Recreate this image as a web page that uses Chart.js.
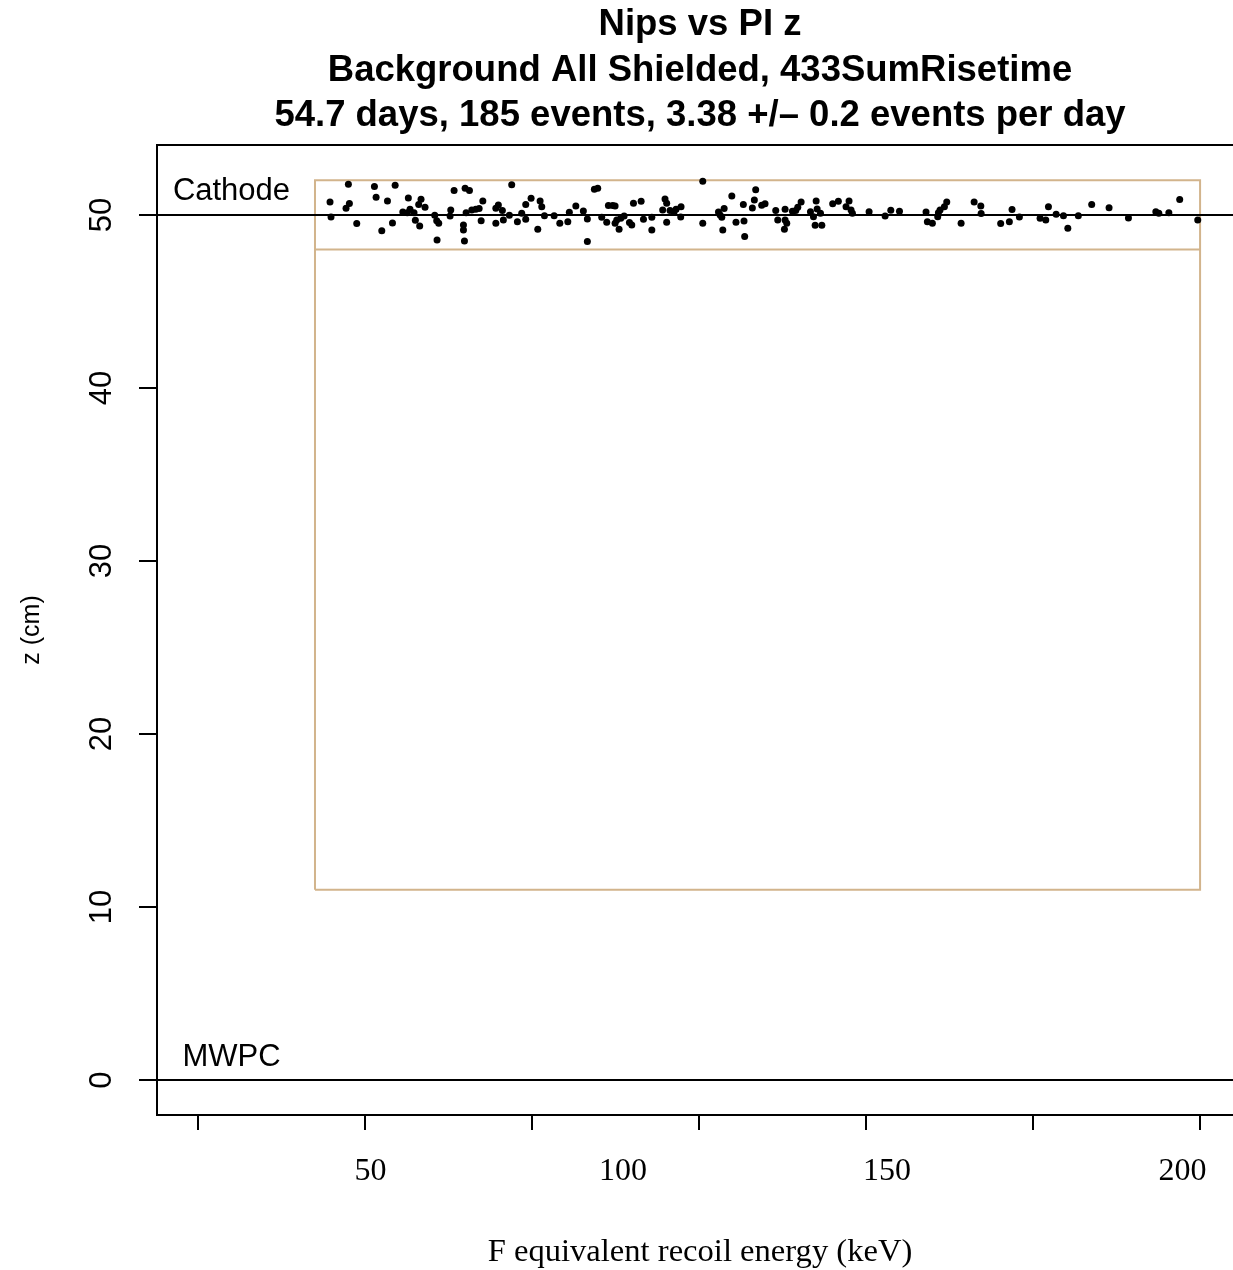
<!DOCTYPE html>
<html>
<head>
<meta charset="utf-8">
<script src="https://cdn.jsdelivr.net/npm/chart.js@4.4.1/dist/chart.umd.min.js"></script>
<style>
  html, body { margin: 0; padding: 0; background: #fff; overflow: hidden; }
  /* le graphe d'origine est rogne a droite : canevas plus large que la fenetre */
  #wrap { width: 1233px; height: 1270px; overflow: hidden; }
  #myChart { display: block; }
</style>
</head>
<body>
<div id="wrap"><canvas id="myChart" width="1243" height="1270"></canvas></div>
<script>
// ----------- DONNEES ------------
// axe x : NIPs (graduations sans texte), texte en energie F equivalente
const nipsTicks = [0, 1000, 2000, 3000, 4000, 5000, 6000];
const energyLabels = ['50', '100', '150', '200'];
const energyAtNips = [1032, 2545, 4126, 5895];
const zTicks = [0, 10, 20, 30, 40, 50];
const xRange = [-246, 6257];
const zRange = [-2.02, 54.05];

const cathodeZ = 50;
const mwpcZ = 0;
const boxNips = [700, 6000];
const boxZ = [11, 48, 52];   // bas, coupure, haut
const labelNips = 200;
const labelZ = [51.33, 1.33];  // Cathode, MWPC

// evenements (NIPs, z en cm)
const nips = [
  900, 1056, 1180, 790, 906, 886, 1066, 1134, 1259, 1335, 1321, 1359, 1533, 796, 950,
  1100, 1164, 1226, 1269, 1253, 1293, 1301, 1327, 1417, 1429, 1441, 1431, 1513, 1509,
  1599, 1625, 1878, 2373, 2393, 1705, 1798, 1783, 1822, 1639, 1663, 1683, 1605, 1962,
  1994, 2048, 2058, 2262, 2307, 2223, 1938, 1864, 2074, 2132, 1589, 1589, 1595, 1695,
  1783, 1828, 1912, 1962, 2034, 2166, 2214, 2331, 2331, 2417,
  3022, 3196, 3265, 2796, 2607, 2653, 2457, 2483, 2497, 2806, 2782, 2826, 2850, 2862,
  2892, 3116, 3150, 3126, 3136, 2667, 2717, 2890, 2447, 2507, 2531, 2551, 2497, 2521,
  2583, 2597, 2717, 2806, 3022, 3142, 3221, 3269, 3273,
  3339, 3331, 3319, 3375, 3395, 3459, 3471, 3515, 3515, 3525, 3511, 3559, 3579, 3591,
  3611, 3701, 3707, 3667, 3685, 3727, 3695, 3735, 3800, 3834, 3898, 3880, 3910, 3918,
  4018, 4114, 4148,
  4200, 4359, 4367, 4397, 4429, 4443, 4433, 4469, 4483, 4569, 4647, 4687, 4689, 4806,
  4858, 4874, 4918,
  5042, 5076, 5092, 5138, 5182, 5208, 5271, 5351, 5455, 5571, 5735, 5753, 5813, 5878,
  5986
];
const zEvents = [
  51.77, 51.64, 51.71, 50.75, 50.66, 50.39, 51.02, 50.81, 50.98, 50.91, 50.60, 50.44, 51.41, 49.88, 49.50,
  49.09, 49.54, 50.17, 50.33, 50.13, 50.13, 49.69, 49.36, 49.98, 49.67, 49.52, 48.55, 50.29, 49.94,
  51.54, 51.41, 51.75, 51.48, 51.54, 50.81, 50.58, 50.39, 50.25, 50.29, 50.33, 50.37, 50.13, 50.60,
  50.96, 50.81, 50.48, 50.52, 50.23, 50.15, 50.10, 49.98, 49.96, 49.96, 49.42, 49.13, 48.50, 49.67,
  49.52, 49.71, 49.61, 49.75, 49.17, 49.52, 49.60, 49.77, 48.46, 49.87,
  51.95, 51.10, 50.60, 50.92, 50.67, 50.79, 50.54, 50.54, 50.52, 50.67, 50.29, 50.25, 50.17, 50.33,
  50.48, 50.17, 50.37, 50.00, 49.87, 49.75, 49.87, 49.88, 49.58, 49.71, 49.81, 49.94, 49.52, 49.17,
  49.56, 49.42, 49.13, 49.58, 49.52, 49.13, 49.58, 49.65, 48.75,
  51.45, 50.87, 50.40, 50.56, 50.64, 50.25, 49.71, 50.33, 49.71, 49.52, 49.17, 50.21, 50.25, 50.44,
  50.75, 50.81, 50.35, 50.19, 49.90, 50.10, 49.40, 49.40, 50.64, 50.79, 50.81, 50.48, 50.29, 50.10,
  50.19, 49.94, 50.27,
  50.21, 50.17, 49.60, 49.52, 49.90, 50.29, 50.13, 50.48, 50.75, 49.52, 50.75, 50.52, 50.08, 49.50,
  49.60, 50.31, 49.88,
  49.81, 49.71, 50.48, 50.04, 49.96, 49.23, 49.96, 50.60, 50.42, 49.83, 50.19, 50.10, 50.13, 50.89,
  49.71
];

const titleLines = [
  'Nips vs PI z',
  'Background All Shielded, 433SumRisetime',
  '54.7 days, 185 events, 3.38 +/\u2013 0.2 events per day'
];

const SANS = '"Liberation Sans", Arial, Helvetica, sans-serif';
const SERIF = '"Liberation Serif", "Times New Roman", serif';
const TAN = '#D2B48C';

// ----------- JEUX DE DONNEES ------------
const points = nips.map((v, i) => ({ x: v, y: zEvents[i] }));
const hline = (zv) => [{ x: xRange[0], y: zv }, { x: xRange[1], y: zv }];
const boxOutline = [
  { x: boxNips[0], y: boxZ[0] }, { x: boxNips[1], y: boxZ[0] },
  { x: boxNips[1], y: boxZ[2] }, { x: boxNips[0], y: boxZ[2] },
  { x: boxNips[0], y: boxZ[0] }
];
const boxCut = [{ x: boxNips[0], y: boxZ[1] }, { x: boxNips[1], y: boxZ[1] }];

const lineDs = (data, color, order) => ({
  type: 'line', data, borderColor: color, borderWidth: 2,
  pointRadius: 0, fill: false, tension: 0, order
});

const data = {
  datasets: [
    { type: 'scatter', data: points, pointRadius: 3.5, pointBackgroundColor: '#000',
      pointBorderWidth: 0, order: 0 },
    lineDs(boxOutline, TAN, 2),
    lineDs(boxCut, TAN, 2),
    lineDs(hline(cathodeZ), '#000', 1),
    lineDs(hline(mwpcZ), '#000', 1)
  ]
};

// ----------- PLUGIN : cadre, etiquettes z tournees, textes ------------
const decor = {
  id: 'decor',
  afterDraw(chart) {
    const { ctx, chartArea, scales } = chart;
    const xs = scales.x, ys = scales.y;
    ctx.save();
    ctx.strokeStyle = '#000';
    ctx.lineWidth = 2;
    ctx.beginPath();
    ctx.moveTo(chartArea.left - 1, chartArea.top);
    ctx.lineTo(chartArea.right, chartArea.top);
    ctx.stroke();

    ctx.fillStyle = '#000';
    ctx.font = '31px ' + SANS;
    ctx.textAlign = 'center';
    ctx.textBaseline = 'middle';
    ys.ticks.forEach(t => {
      ctx.save();
      ctx.translate(chartArea.left - 55, ys.getPixelForValue(t.value));
      ctx.rotate(-Math.PI / 2);
      ctx.fillText(String(t.value), 0, 0);
      ctx.restore();
    });

    ctx.fillText('Cathode', xs.getPixelForValue(labelNips), ys.getPixelForValue(labelZ[0]));
    ctx.fillText('MWPC', xs.getPixelForValue(labelNips), ys.getPixelForValue(labelZ[1]));
    ctx.restore();
  }
};

// ----------- CONFIGURATION ------------
const config = {
  data,
  options: {
    responsive: false,
    animation: false,
    devicePixelRatio: 1,
    layout: { autoPadding: false, padding: 0 },
    plugins: {
      legend: { display: false },
      tooltip: { enabled: false },
      title: {
        display: true,
        fullSize: false,
        text: titleLines,
        color: '#000',
        font: { family: SANS, size: 36.5, weight: 'bold', lineHeight: 1.25 },
        padding: { top: 2, bottom: 6 }
      }
    },
    scales: {
      x: {
        type: 'linear', position: 'bottom', min: xRange[0], max: xRange[1], weight: 0,
        afterBuildTicks: s => { s.ticks = nipsTicks.map(v => ({ value: v })); },
        afterFit: s => { s.height = 16; s.paddingLeft = 0; s.paddingRight = 0; },
        ticks: { display: false },
        grid: { display: true, drawOnChartArea: false, drawTicks: true, tickLength: 15,
                color: '#000', lineWidth: 2 },
        border: { display: true, color: '#000', width: 2 }
      },
      xE: {
        type: 'linear', position: 'bottom', min: xRange[0], max: xRange[1], weight: 1,
        afterBuildTicks: s => { s.ticks = energyAtNips.map(v => ({ value: v })); },
        afterFit: s => { s.height = 139; s.paddingLeft = 0; s.paddingRight = 0; },
        ticks: {
          autoSkip: false, maxRotation: 0, minRotation: 0, padding: 21.5, color: '#000',
          font: { family: SERIF, size: 32 },
          callback: (v, i) => energyLabels[i]
        },
        grid: { display: false, drawTicks: false },
        border: { display: false },
        title: {
          display: true, text: 'F equivalent recoil energy (keV)', color: '#000',
          font: { family: SERIF, size: 32.6, lineHeight: 1 }, padding: { top: 0, bottom: 1 }
        }
      },
      y: {
        type: 'linear', position: 'left', min: zRange[0], max: zRange[1],
        afterBuildTicks: s => { s.ticks = zTicks.map(v => ({ value: v })); },
        afterFit: s => { s.width = 157; s.paddingTop = 0; s.paddingBottom = 0; },
        ticks: { display: false },
        grid: { display: true, drawOnChartArea: false, drawTicks: true, tickLength: 18,
                color: '#000', lineWidth: 2 },
        border: { display: true, color: '#000', width: 2 },
        title: {
          display: true, text: 'z (cm)', color: '#000',
          font: { family: SANS, size: 25 }, padding: { top: 17, bottom: 0 }
        }
      }
    }
  },
  plugins: [decor]
};

// ----------- RENDU ------------
const myChart = new Chart(document.getElementById('myChart').getContext('2d'), config);
</script>
</body>
</html>
